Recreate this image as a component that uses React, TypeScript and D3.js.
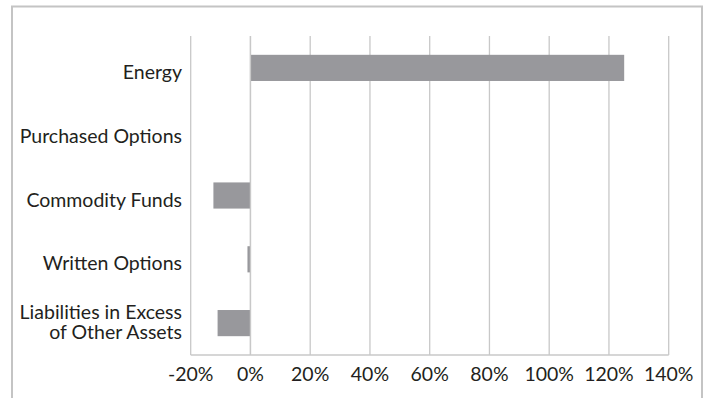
import React from "react";
import * as d3 from "d3";

const categories = ["Energy", "Purchased Options", "Commodity Funds", "Written Options", "Liabilities in Excess\nof Other Assets"];
const values = [125.1, 0, -12.4, -1.0, -11.0];
const ticks = [-20, 0, 20, 40, 60, 80, 100, 120, 140];

const W = 707, H = 398;
const left = 190.7, right = 668.7, top = 36, bottom = 355;

export default function App() {
  const x = d3.scaleLinear().domain([-20, 140]).range([left, right]);
  const y = d3.scaleBand().domain(categories).range([top, bottom]).paddingInner(0.59).paddingOuter(0.295);
  const font = "Lato, 'Open Sans', sans-serif";
  return (
    <svg width={W} height={H} style={{ position: "absolute", left: 0, top: 0 }}>
      <rect x={0} y={0} width={W} height={H} fill="#fff" />
      <path d={`M12,${H + 2}V6.5H702V${H + 2}`} fill="none" stroke="#c4c4c4" strokeWidth={2} />
      {ticks.map((t) => (
        <line key={t} x1={x(t)} x2={x(t)} y1={top} y2={bottom} stroke="#c8c8c8" strokeWidth={1.3} />
      ))}
      <line x1={left} x2={right} y1={bottom} y2={bottom} stroke="#c8c8c8" strokeWidth={1.3} />
      {categories.map((c, i) => {
        const v = values[i];
        const x0 = x(Math.min(0, v));
        const w = Math.abs(x(v) - x(0));
        return <rect key={c} x={x0} y={y(c)!} width={w} height={y.bandwidth()} fill="#98989c" />;
      })}
      <line x1={x(0)} x2={x(0)} y1={top} y2={bottom} stroke="#c8c8c8" strokeWidth={1.3} />
      {categories.map((c) => {
        const lines = c.split("\n");
        const cy = y(c)! + y.bandwidth() / 2;
        return (
          <text key={c} x={182} y={cy} textAnchor="end" fontFamily={font} fontSize={19.5} fill="#231f20">
            {lines.map((l, j) => (
              <tspan key={j} x={182} dy={j === 0 ? 11 - (lines.length - 1) * 14.7 : 20}>{l}</tspan>
            ))}
          </text>
        );
      })}
      {ticks.map((t) => (
        <text key={t} x={x(t)} y={381} textAnchor="middle" fontFamily={font} fontSize={19.5} fill="#231f20">
          {t}%
        </text>
      ))}
    </svg>
  );
}
